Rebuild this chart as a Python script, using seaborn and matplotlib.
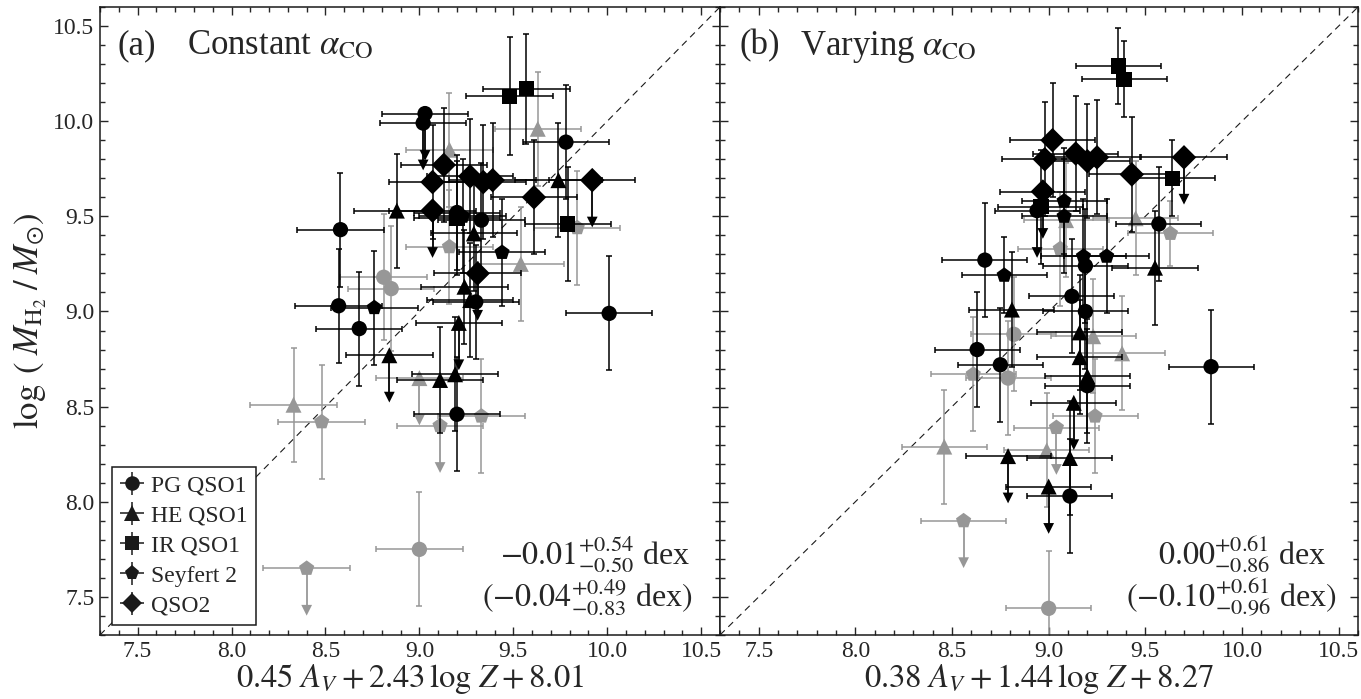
import numpy as np
import pandas as pd
import matplotlib
matplotlib.use("Agg")
import matplotlib.pyplot as plt
from matplotlib.ticker import MultipleLocator, FormatStrFormatter
import seaborn as sns

# ---------------------------------------------------------------
# Sample definitions
# ---------------------------------------------------------------
SAMPLES = ["PG QSO1", "HE QSO1", "IR QSO1", "Seyfert 2", "QSO2"]
MARKERS = {"PG QSO1": "o", "HE QSO1": "^", "IR QSO1": "s", "Seyfert 2": "p", "QSO2": "D"}
MSIZE = {"PG QSO1": 11, "HE QSO1": 11.5, "IR QSO1": 11, "Seyfert 2": 11.5, "QSO2": 12.5}
BLACK = "#000000"
GRAY = "#979797"

# ---------------------------------------------------------------
# Panel (a): constant alpha_CO
# upper = 1 marks an upper limit (yerr is then the arrow length)
# ---------------------------------------------------------------
a_sample = (["PG QSO1"] * 14 + ["HE QSO1"] * 14 + ["IR QSO1"] * 4
            + ["Seyfert 2"] * 9 + ["QSO2"] * 9)
a_x = [8.58, 8.57, 8.68, 9.03, 9.02, 9.78, 9.20, 9.33, 9.30, 10.01, 9.20, 8.81, 8.85, 9.00,
       8.88, 9.74, 9.29, 9.24, 9.27, 9.21, 8.84, 9.11, 9.19, 9.63, 9.16, 9.54, 8.33, 9.00,
       9.48, 9.57, 9.79, 9.20,
       8.76, 9.23, 9.44, 9.16, 9.84, 8.48, 8.40, 9.33, 9.11,
       9.13, 9.07, 9.07, 9.27, 9.34, 9.39, 9.61, 9.92, 9.31]
a_y = [9.43, 9.03, 8.91, 10.04, 9.99, 9.89, 9.52, 9.48, 9.05, 8.99, 8.46, 9.18, 9.12, 7.75,
       9.53, 9.69, 9.41, 9.13, 9.06, 8.94, 8.77, 8.64, 8.67, 9.96, 9.85, 9.25, 8.51, 8.65,
       10.13, 10.17, 9.46, 9.49,
       9.02, 9.50, 9.31, 9.34, 9.44, 8.42, 7.65, 8.45, 8.40,
       9.77, 9.68, 9.53, 9.71, 9.68, 9.69, 9.60, 9.69, 9.20]
a_xerr = [0.23] * 50
a_yerr = [0.30, 0.30, 0.30, 0.22, 0.22, 0.30, 0.30, 0.30, 0.30, 0.30, 0.30, 0.33, 0.33, 0.30,
          0.30, 0.30, 0.30, 0.30, 0.30, 0.22, 0.22, 0.28, 0.30, 0.30, 0.30, 0.30, 0.30, 0.22,
          0.31, 0.29, 0.30, 0.30,
          0.30, 0.30, 0.28, 0.30, 0.30, 0.30, 0.22, 0.30, 0.22,
          0.30, 0.30, 0.22, 0.30, 0.30, 0.30, 0.30, 0.22, 0.22]
a_gray = [0, 0, 0, 0, 0, 0, 0, 0, 0, 0, 0, 1, 1, 1,
          0, 0, 0, 0, 0, 0, 0, 0, 0, 1, 1, 1, 1, 1,
          0, 0, 0, 0,
          0, 0, 0, 1, 1, 1, 1, 1, 1,
          0, 0, 0, 0, 0, 0, 0, 0, 0]
a_upper = [0, 0, 0, 1, 1, 0, 0, 0, 0, 0, 0, 0, 0, 0,
           0, 0, 0, 0, 0, 1, 1, 0, 0, 0, 0, 0, 0, 1,
           0, 0, 0, 0,
           0, 0, 0, 0, 0, 0, 1, 0, 1,
           0, 0, 1, 0, 0, 0, 0, 1, 1]

# ---------------------------------------------------------------
# Panel (b): varying alpha_CO
# ---------------------------------------------------------------
b_sample = (["PG QSO1"] * 14 + ["HE QSO1"] * 15 + ["IR QSO1"] * 4
            + ["Seyfert 2"] * 11 + ["QSO2"] * 8)
b_x = [8.94, 9.57, 9.12, 9.19, 9.19, 9.20, 9.11, 9.84, 8.67, 8.63, 8.75, 8.79, 9.00, 8.82,
       8.81, 9.55, 9.16, 9.16, 9.20, 9.13, 9.11, 8.79, 9.00, 9.45, 9.23, 9.38, 8.46, 8.99, 9.09,
       9.36, 9.39, 9.64, 8.96,
       9.08, 9.08, 9.18, 9.30, 8.77, 9.63, 9.06, 8.61, 9.24, 9.04, 8.56,
       9.02, 8.98, 9.14, 9.20, 9.25, 9.43, 9.70, 8.97]
b_y = [9.53, 9.46, 9.08, 9.00, 9.24, 8.61, 8.03, 8.71, 9.27, 8.80, 8.72, 8.65, 7.44, 8.88,
       9.01, 9.23, 8.89, 8.76, 8.66, 8.52, 8.23, 8.24, 8.08, 9.49, 8.87, 8.78, 8.29, 8.27, 9.48,
       10.29, 10.22, 9.70, 9.55,
       9.58, 9.50, 9.29, 9.29, 9.19, 9.41, 9.33, 8.67, 8.45, 8.39, 7.90,
       9.90, 9.80, 9.83, 9.79, 9.81, 9.72, 9.81, 9.63]
b_xerr = [0.22] * 52
b_yerr = [0.22, 0.30, 0.30, 0.30, 0.30, 0.30, 0.30, 0.30, 0.30, 0.30, 0.30, 0.30, 0.30, 0.30,
          0.30, 0.30, 0.30, 0.30, 0.30, 0.22, 0.30, 0.22, 0.22, 0.30, 0.30, 0.30, 0.30, 0.30, 0.30,
          0.20, 0.20, 0.20, 0.30,
          0.28, 0.30, 0.30, 0.30, 0.20, 0.17, 0.30, 0.30, 0.30, 0.22, 0.22,
          0.30, 0.30, 0.30, 0.30, 0.30, 0.30, 0.22, 0.22]
b_gray = [0, 0, 0, 0, 0, 0, 0, 0, 0, 0, 0, 1, 1, 1,
          0, 0, 0, 0, 0, 0, 0, 0, 0, 1, 1, 1, 1, 1, 1,
          0, 0, 0, 0,
          0, 0, 0, 0, 0, 1, 1, 1, 1, 1, 1,
          0, 0, 0, 0, 0, 0, 0, 0]
b_upper = [1, 0, 0, 0, 0, 0, 0, 0, 0, 0, 0, 0, 0, 0,
           0, 0, 0, 0, 0, 1, 0, 1, 1, 0, 0, 0, 0, 0, 0,
           0, 0, 0, 0,
           0, 0, 0, 0, 0, 0, 0, 0, 0, 1, 1,
           0, 0, 0, 0, 0, 0, 1, 1]

# Panel text
panel_tags = ["(a)", "(b)"]
panel_titles = [r"Constant $\alpha_{\rm CO}$", r"Varying $\alpha_{\rm CO}$"]
x_labels = [r"$0.45\ A_V + 2.43\,\log\,Z + 8.01$", r"$0.38\ A_V + 1.44\,\log\,Z + 8.27$"]
y_label = r"$\log\;(\;M_{\rm H_2}\;/\;M_{\odot})$"
offset_main = [r"$-0.01^{+0.54}_{-0.50}$ dex", r"$0.00^{+0.61}_{-0.86}$ dex"]
offset_alt = [r"$(-0.04^{+0.49}_{-0.83}$ dex$)$", r"$(-0.10^{+0.61}_{-0.96}$ dex$)$"]
AX_LIM = (7.3, 10.6)
TICKS = [7.5, 8.0, 8.5, 9.0, 9.5, 10.0, 10.5]

# ---------------------------------------------------------------
# Style
# ---------------------------------------------------------------
sns.set_theme(style="ticks")
plt.rcParams["font.family"] = ["Liberation Serif", "DejaVu Serif"]
plt.rcParams["mathtext.fontset"] = "stix"
plt.rcParams["axes.linewidth"] = 1.1

fig = plt.figure(figsize=(13.61, 6.99), dpi=100)
W, H = 1361.0, 699.0
ax_a = fig.add_axes([100 / W, 1 - 635 / H, 620 / W, 628 / H])
ax_b = fig.add_axes([720 / W, 1 - 635 / H, 638 / W, 628 / H], sharey=ax_a)

panels = [
    (ax_a, a_sample, a_x, a_y, a_xerr, a_yerr, a_gray, a_upper),
    (ax_b, b_sample, b_x, b_y, b_xerr, b_yerr, b_gray, b_upper),
]

EB_KW = dict(fmt="none", elinewidth=1.1, capsize=2.3, capthick=1.1)

for i, (ax, sample, x, y, xerr, yerr, gray, upper) in enumerate(panels):
    df = pd.DataFrame({"sample": sample, "x": x, "y": y, "xerr": xerr,
                       "yerr": yerr, "gray": gray, "upper": upper})

    # one-to-one line
    ax.plot(AX_LIM, AX_LIM, color="k", lw=0.8, dashes=(6, 4.5), zorder=1)

    for shade, col, z in [(1, GRAY, 2), (0, BLACK, 4)]:
        grp = df[df["gray"] == shade]
        det = grp[grp["upper"] == 0]
        lim = grp[grp["upper"] == 1]
        ax.errorbar(det["x"], det["y"], xerr=det["xerr"], yerr=det["yerr"],
                    ecolor=col, zorder=z, **EB_KW)
        ax.errorbar(lim["x"], lim["y"], xerr=lim["xerr"],
                    ecolor=col, zorder=z, **EB_KW)
        # upper-limit arrows
        ax.vlines(lim["x"], lim["y"] - lim["yerr"], lim["y"], colors=col,
                  lw=1.3, zorder=z)
        ax.scatter(lim["x"], lim["y"] - lim["yerr"], marker="v", s=60,
                   color=col, edgecolors="none", zorder=z)
        for s in SAMPLES:
            sub = grp[grp["sample"] == s]
            if len(sub) == 0:
                continue
            sns.scatterplot(data=sub, x="x", y="y", marker=MARKERS[s],
                            s=MSIZE[s] ** 2, color=col, edgecolor="none",
                            linewidth=0, ax=ax, zorder=z + 1, legend=False)

    ax.set_xlim(*AX_LIM)
    ax.set_ylim(*AX_LIM)
    ax.set_xticks(TICKS)
    ax.set_yticks(TICKS)
    ax.xaxis.set_minor_locator(MultipleLocator(0.1))
    ax.yaxis.set_minor_locator(MultipleLocator(0.1))
    ax.xaxis.set_major_formatter(FormatStrFormatter("%.1f"))
    ax.yaxis.set_major_formatter(FormatStrFormatter("%.1f"))
    ax.tick_params(which="both", direction="in", top=True, right=True,
                   bottom=True, left=True, width=1.0, labelsize=17, pad=4)
    ax.tick_params(which="major", length=6)
    ax.tick_params(which="minor", length=3.5)
    for sp in ax.spines.values():
        sp.set_color("k")
        sp.set_linewidth(1.1)
    ax.set_xlabel(x_labels[i], fontsize=23.5, labelpad=0)
    ax.set_ylabel("")

    # panel title
    ax.text(0.029 if i == 0 else 0.031, 0.965, panel_tags[i], transform=ax.transAxes,
            fontsize=25, ha="left", va="top")
    ax.text(0.140 if i == 0 else 0.125, 0.965, panel_titles[i], transform=ax.transAxes,
            fontsize=25, ha="left", va="top")

    # offset annotations
    ax.text(0.952 if i == 0 else 0.950, 0.112, offset_main[i], transform=ax.transAxes,
            fontsize=23, ha="right", va="baseline")
    ax.text(0.955 if i == 0 else 0.966, 0.043, offset_alt[i], transform=ax.transAxes,
            fontsize=23, ha="right", va="baseline")

ax_b.tick_params(labelleft=False)
ax_a.set_ylabel(y_label, fontsize=25)
ax_a.yaxis.set_label_coords(-0.083, 0.5)

# legend with error-bar style handles
handles = []
for s in SAMPLES:
    h = ax_a.errorbar([np.nan], [np.nan], xerr=[0.1], yerr=[0.1], fmt=MARKERS[s],
                      color="k", ms=MSIZE[s] * (0.95 if s != "QSO2" else 0.85),
                      mew=0, elinewidth=1.1, capsize=2.3, capthick=1.1, label=s)
    handles.append(h)
leg = ax_a.legend(handles=handles, labels=SAMPLES, loc="lower left",
                  bbox_to_anchor=(0.019, 0.016), borderaxespad=0, fontsize=17,
                  frameon=True, fancybox=False, framealpha=1, edgecolor="k",
                  handlelength=1.0, handletextpad=0.3, labelspacing=0.36,
                  borderpad=0.35)
leg.get_frame().set_linewidth(1.1)
leg.set_zorder(10)

fig.savefig("out.png", dpi=100)
